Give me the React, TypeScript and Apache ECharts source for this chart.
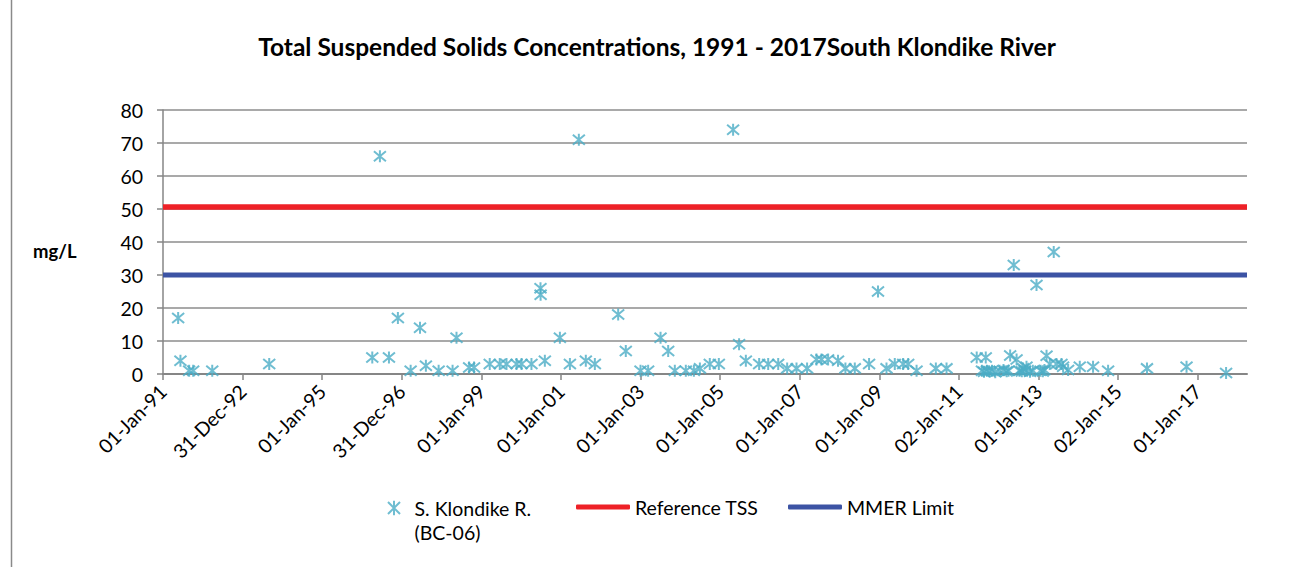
import React, { useEffect, useRef } from "react";
import * as echarts from "echarts";

// ---- data ----
const titleText = "Total Suspended Solids Concentrations, 1991 - 2017South Klondike River";
const yAxisName = "mg/L";
const seriesNames = ["S. Klondike R. (BC-06)", "Reference TSS", "MMER Limit"];

const sampleDates = [
  "1991-05-20", "1991-06-10", "1991-08-29", "1991-10-05", "1992-03-28", "1993-09-02",
  "1996-04-05", "1996-06-14", "1996-09-05", "1996-11-26", "1997-03-23", "1997-06-17",
  "1997-08-10", "1997-12-05", "1998-04-12", "1998-05-18", "1998-09-11", "1998-10-26",
  "1999-03-19", "1999-06-19", "1999-08-20", "1999-11-20", "2000-01-05", "2000-04-05",
  "2000-06-27", "2000-06-28", "2000-08-06", "2000-12-22", "2001-03-24", "2001-06-14",
  "2001-08-17", "2001-11-08", "2002-06-10", "2002-08-19", "2003-01-01", "2003-03-12",
  "2003-07-04", "2003-09-12", "2003-11-12", "2004-02-21", "2004-05-05", "2004-06-29",
  "2004-09-28", "2004-12-20", "2005-04-30", "2005-06-24", "2005-08-25", "2005-12-25",
  "2006-03-18", "2006-06-18", "2006-09-08", "2006-12-03", "2007-03-10", "2007-06-04",
  "2007-07-20", "2007-09-19", "2007-12-19", "2008-02-25", "2008-05-21", "2008-09-29",
  "2008-12-20", "2009-03-08", "2009-05-23", "2009-08-08", "2009-09-23", "2009-12-09",
  "2010-06-04", "2010-09-10", "2011-06-14", "2011-09-05", "2011-08-01", "2011-08-20",
  "2011-09-15", "2011-10-05", "2011-11-01", "2011-12-01", "2012-01-10", "2012-02-15",
  "2012-03-15", "2012-04-01", "2012-07-10", "2012-08-01", "2012-09-01", "2012-10-15",
  "2012-11-10", "2013-01-20", "2013-02-10", "2013-02-25", "2012-04-16", "2012-05-19",
  "2012-06-14", "2012-08-13", "2012-09-13", "2012-12-14", "2013-03-16", "2013-04-15",
  "2013-05-21", "2013-06-15", "2013-07-31", "2013-08-15", "2013-09-30", "2014-01-15",
  "2014-05-17", "2014-10-02", "2015-09-24", "2016-09-21", "2017-09-19",
];
const tssValues = [
  17, 4, 1, 1, 1, 3,
  5, 66, 5, 17, 1, 14,
  2.5, 1, 1, 11, 2, 2,
  3, 3, 3, 3, 3, 3,
  26, 24, 4, 11, 3, 71,
  4, 3, 18, 7, 1, 1,
  11, 7, 1, 1, 1, 1.7,
  3, 3, 74, 9, 4, 3,
  3, 3, 1.7, 1.7, 1.7, 4.4,
  4.4, 4.4, 4, 1.7, 1.7, 3,
  25, 1.7, 3, 3, 3, 1,
  1.7, 1.7, 5, 5, 1, 0.7,
  1, 0.8, 1, 0.5, 1, 1.2,
  0.8, 1, 1, 0.8, 1, 0.7,
  1, 1, 0.8, 1.2, 5.6, 33,
  4.4, 1.7, 2.2, 27, 5.5, 3,
  37, 3, 3, 2.2, 1.2, 2.2,
  2.2, 1, 1.7, 2.2, 0.3,
];
const referenceTss = 50.6;
const mmerLimit = 30;
const axisStart = "1991-01-01";
const axisEnd = "2018-03-30";
const tickLabels = [
  "01-Jan-91", "31-Dec-92", "01-Jan-95", "31-Dec-96", "01-Jan-99", "01-Jan-01", "01-Jan-03",
  "01-Jan-05", "01-Jan-07", "01-Jan-09", "02-Jan-11", "01-Jan-13", "02-Jan-15", "01-Jan-17",
];
const tickStepDays = 730.5;
const yMin = 0;
const yMax = 80;
const yStep = 10;

const FONT = "Lato, 'Liberation Sans', sans-serif";

const dayOf = (s: string) => {
  const [y, m, d] = s.split("-").map(Number);
  const [y0, m0, d0] = axisStart.split("-").map(Number);
  return (Date.UTC(y, m - 1, d) - Date.UTC(y0, m0 - 1, d0)) / 86400000;
};

export default function App() {
  const ref = useRef<HTMLDivElement>(null);
  useEffect(() => {
    if (!ref.current) return;
    const chart = echarts.init(ref.current, null, { renderer: "svg" });
    const xMax = dayOf(axisEnd);
    const tickVals = tickLabels.map((_, i) => i * tickStepDays);
    const starPath = "path://M0,0 L10,10 M10,0 L0,10 M5,-1 L5,11";
    // same asterisk, with an empty tall frame so that it sits on the first line of the legend text
    const legendStarPath = "path://M5,-5 L5,-5 M0,0 L10,10 M10,0 L0,10 M5,-1 L5,11 M5,35 L5,35";
    const scatterData = sampleDates.map((d, i) => [dayOf(d), tssValues[i]]);
    const legendText = { fontSize: 19.5, lineHeight: 24, color: "#000000", fontFamily: FONT };
    const option: any = {
      animation: false,
      backgroundColor: "#ffffff",
      textStyle: { fontFamily: FONT },
      graphic: [
        {
          type: "line",
          shape: { x1: 11.5, y1: 0, x2: 11.5, y2: 567 },
          style: { stroke: "#8a8a8a", lineWidth: 1.5 },
          silent: true,
        },
        {
          type: "text",
          x: 657,
          y: 46,
          style: {
            text: titleText,
            fontFamily: FONT,
            fontWeight: "bold",
            fontSize: 24.5,
            fill: "#000000",
            align: "center",
            verticalAlign: "middle",
          },
        },
        {
          type: "text",
          x: 33,
          y: 251,
          style: {
            text: yAxisName,
            fontFamily: FONT,
            fontWeight: "bold",
            fontSize: 18.5,
            fill: "#000000",
            align: "left",
            verticalAlign: "middle",
          },
        },
      ],
      grid: { left: 163, right: 56, top: 110, bottom: 193, outerBoundsMode: "none" },
      xAxis: {
        type: "value",
        min: 0,
        max: xMax,
        interval: tickStepDays,
        axisLine: { show: true, lineStyle: { color: "#868686", width: 2 } },
        axisTick: {
          show: true,
          length: 6,
          inside: false,
          customValues: tickVals,
          lineStyle: { color: "#868686", width: 1.5 },
        },
        axisLabel: {
          customValues: tickVals,
          rotate: 45,
          margin: 14,
          fontSize: 19.5,
          color: "#000000",
          fontFamily: FONT,
          formatter: (v: number) => {
            const i = Math.round(v / tickStepDays);
            return Math.abs(v - i * tickStepDays) < 1 && tickLabels[i] ? tickLabels[i] : "";
          },
        },
        splitLine: { show: false },
      },
      yAxis: {
        type: "value",
        min: yMin,
        max: yMax,
        interval: yStep,
        axisLine: { show: true, lineStyle: { color: "#868686", width: 1.5 } },
        axisTick: { show: true, length: 6, lineStyle: { color: "#868686", width: 1.5 } },
        axisLabel: { margin: 20, fontSize: 19.5, color: "#000000", fontFamily: FONT },
        splitLine: { show: true, lineStyle: { color: "#8c8c8c", width: 1.5 } },
      },
      legend: [
        {
          data: [{ name: seriesNames[0], icon: legendStarPath }],
          left: 387,
          top: 495,
          padding: 0,
          itemWidth: 31,
          itemHeight: 48,
          itemGap: 0,
          formatter: () => "S. Klondike R.\n(BC-06)",
          textStyle: legendText,
        },
        {
          data: [{ name: seriesNames[1], icon: "roundRect" }],
          left: 576,
          top: 495,
          padding: 0,
          itemWidth: 54,
          itemHeight: 5,
          itemGap: 0,
          textStyle: legendText,
        },
        {
          data: [{ name: seriesNames[2], icon: "roundRect" }],
          left: 788,
          top: 495,
          padding: 0,
          itemWidth: 54,
          itemHeight: 5,
          itemGap: 0,
          textStyle: legendText,
        },
      ],
      series: [
        {
          name: seriesNames[0],
          type: "scatter",
          symbol: starPath,
          symbolSize: 12,
          itemStyle: { color: "rgba(0,0,0,0)", borderColor: "#4bacc6", borderWidth: 2 },
          data: scatterData,
          z: 3,
        },
        {
          name: seriesNames[1],
          type: "line",
          symbol: "none",
          showSymbol: false,
          color: "#ee2127",
          lineStyle: { color: "#ee2127", width: 5.5, cap: "butt" },
          data: [[0, referenceTss], [xMax, referenceTss]],
          z: 2,
        },
        {
          name: seriesNames[2],
          type: "line",
          symbol: "none",
          showSymbol: false,
          color: "#3c53a4",
          lineStyle: { color: "#3c53a4", width: 5, cap: "butt" },
          data: [[0, mmerLimit], [xMax, mmerLimit]],
          z: 2,
        },
      ],
    };
    chart.setOption(option);
    return () => chart.dispose();
  }, []);
  return (
    <div
      ref={ref}
      style={{ position: "fixed", left: 0, top: 0, width: 1303, height: 567, background: "#fff" }}
    />
  );
}
